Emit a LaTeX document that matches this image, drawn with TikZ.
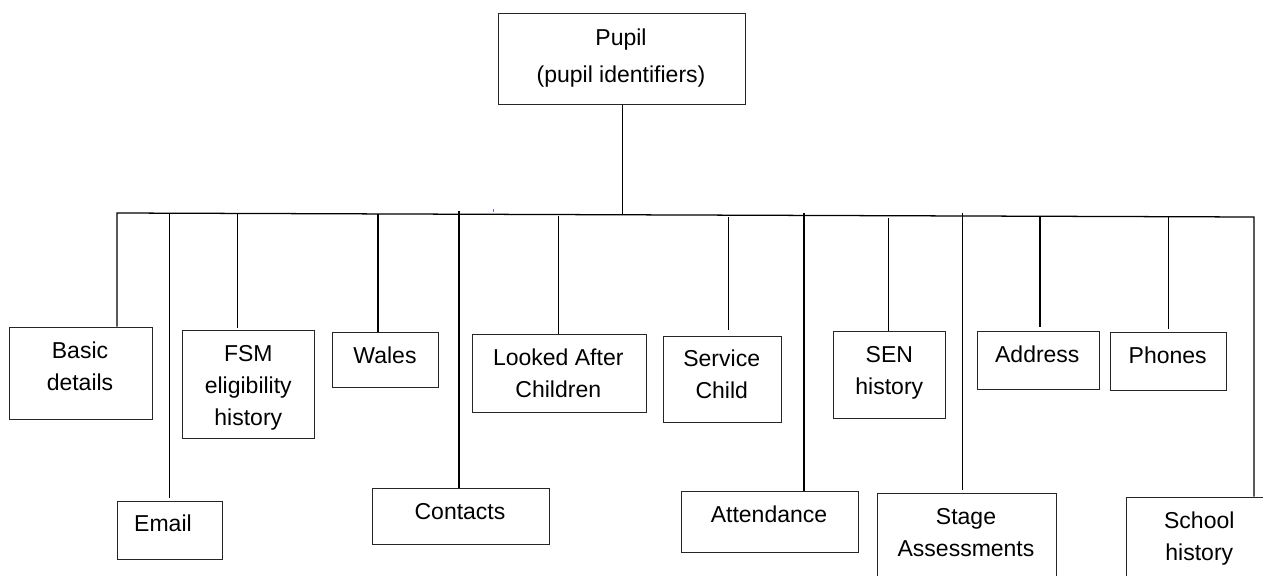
\documentclass[tikz,border=0pt]{standalone}
\usepackage{fontspec}
\setmainfont{Liberation Sans}
\usetikzlibrary{fit}
\begin{document}
\begin{tikzpicture}[x=0.75pt,y=-0.75pt,
  box/.style={draw=black!85, line width=0.75pt, rectangle, inner sep=0pt},
  lbl/.style={font=\fontsize{17.25}{24}\selectfont, align=center, inner sep=0pt},
  conn/.style={draw=black, line width=0.95pt}]
\useasboundingbox (0,0) rectangle (1263,575);
\clip (0,0) rectangle (1263,575);

% boxes
\node[box, fit={(498,13) (745,104)}] (pupil) {};
\node[box, fit={(9,327) (152,419)}] (basic) {};
\node[box, fit={(117,501) (222,559)}] (email) {};
\node[box, fit={(182,330) (314,438)}] (fsm) {};
\node[box, fit={(332,332) (438,387)}] (wales) {};
\node[box, fit={(372,488) (549,544)}] (contacts) {};
\node[box, fit={(472,334) (646,412)}] (lac) {};
\node[box, fit={(663,336) (781,422)}] (service) {};
\node[box, fit={(681,491) (858,552)}] (attendance) {};
\node[box, fit={(833,331) (945,418)}] (sen) {};
\node[box, fit={(877,493) (1056,600)}] (stage) {};
\node[box, fit={(977,331) (1099,389)}] (address) {};
\node[box, fit={(1110,332) (1226,390)}] (phones) {};
\node[box, fit={(1126,497) (1300,600)}] (school) {};

% labels
\node[lbl, font=\fontsize{17.25}{28}\selectfont] (pupilt) at (621,58) {Pupil\\(pupil identifiers)};
\node[lbl] (basict) at (80,366.5) {Basic\\details};
\node[lbl] (emailt) at (163,523) {Email};
\node[lbl] (fsmt) at (248.3,387.5) {FSM\\eligibility\\history};
\node[lbl] (walest) at (385,355) {Wales};
\node[lbl] (contactst) at (460,512) {Contacts};
\node[lbl] (lact) at (558.3,373.2) {Looked After\\Children};
\node[lbl] (servicet) at (721.7,374.5) {Service\\Child};
\node[lbl] (attendancet) at (769,514) {Attendance};
\node[lbl] (sent) at (889.3,373) {SEN\\history};
\node[lbl] (staget) at (966,532.2) {Stage\\Assessments};
\node[lbl] (addresst) at (1037.3,354) {Address};
\node[lbl] (phonest) at (1167.7,355) {Phones};
\node[lbl] (schoolt) at (1199.3,538.3) {School\\history};

% bar coordinates
\coordinate (barL) at (117,213);
\coordinate (barR) at (1254,217);
\coordinate (hub) at (622.7,214.8);
\coordinate (c2) at (169.3,213.2);
\coordinate (c3) at (237.3,213.4);
\coordinate (c4) at (378,214);
\coordinate (c5) at (459,211);
\coordinate (c6) at (558.3,216);
\coordinate (c7) at (728.6,217.3);
\coordinate (c8) at (804,212.7);
\coordinate (c9) at (888.3,218);
\coordinate (c10) at (962.7,212.7);
\coordinate (c11) at (1040,216.7);
\coordinate (c12) at (1168.7,216);

% connectors
\draw[conn] (pupil.south -| hub) -- (hub);
\draw[conn] (basic.north -| barL) -- (barL) -- (barR) -- (barR |- school.north);
\draw[conn, shorten >=2.25pt] (c2) -- (c2 |- email.north);
\draw[conn, shorten >=1.5pt] (c3) -- (c3 |- fsm.north);
\draw[conn] (c4) -- (c4 |- wales.north);
\draw[conn] (c5) -- (c5 |- contacts.north);
\draw[conn] (c6) -- (c6 |- lac.north);
\draw[conn, shorten >=4.5pt] (c7) -- (c7 |- service.north);
\draw[conn] (c8) -- (c8 |- attendance.north);
\draw[conn] (c9) -- (c9 |- sen.north);
\draw[conn, shorten >=2.25pt] (c10) -- (c10 |- stage.north);
\draw[conn, shorten >=3pt] (c11) -- (c11 |- address.north);
\draw[conn, shorten >=2.25pt] (c12) -- (c12 |- phones.north);

% small blue mark
\fill[blue!60] (492.6,209) rectangle (493.6,211.5);
\end{tikzpicture}
\end{document}
